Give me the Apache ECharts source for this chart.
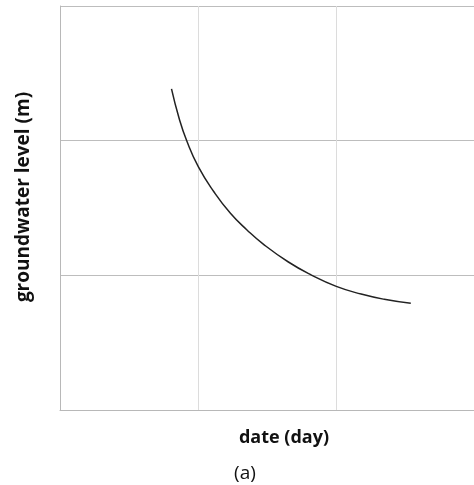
<!DOCTYPE html>
<html><head><meta charset="utf-8">
<script src="https://cdn.jsdelivr.net/npm/echarts@6/dist/echarts.min.js"></script>
<style>html,body{margin:0;padding:0;background:#fff}#c{width:474px;height:485px}</style>
</head><body><div id="c"></div>
<script>
const xValues = [0.808, 0.863, 0.919, 1.002, 1.115, 1.235, 1.355, 1.475, 1.655, 1.822, 2.002, 2.182, 2.350, 2.542];
const yValues = [2.384, 2.166, 1.997, 1.807, 1.621, 1.461, 1.337, 1.230, 1.099, 1.002, 0.918, 0.861, 0.822, 0.792];
const xTicks = [0, 1, 2, 3];
const yTicks = [0, 1, 2, 3];
const xName = 'date (day)';
const yName = 'groundwater level (m)';
const caption = '(a)';

const chart = echarts.init(document.getElementById('c'), null, {renderer: 'canvas'});
const font = '"Open Sans", "Noto Sans", sans-serif';
chart.setOption({
  animation: false,
  backgroundColor: '#fff',
  grid: {left: 60, top: 6, width: 417, height: 404, containLabel: false},
  xAxis: {
    type: 'value', min: xTicks[0], max: xTicks[xTicks.length - 1], interval: 1,
    axisLine: {show: true, lineStyle: {color: '#b8b8b8', width: 1}},
    axisTick: {show: false}, axisLabel: {show: false},
    splitLine: {show: true, lineStyle: {color: '#dcdcdc', width: 1}}
  },
  yAxis: {
    type: 'value', min: yTicks[0], max: yTicks[yTicks.length - 1], interval: 1,
    axisLine: {show: true, lineStyle: {color: '#b8b8b8', width: 1}},
    axisTick: {show: false}, axisLabel: {show: false},
    splitLine: {show: true, lineStyle: {color: '#bdbdbd', width: 1}}
  },
  series: [{
    type: 'line', smooth: 0.5, showSymbol: false,
    data: xValues.map((x, i) => [x, yValues[i]]),
    lineStyle: {color: '#222', width: 1.5}
  }],
  graphic: [
    {type: 'text', x: 24, y: 197, rotation: Math.PI / 2,
      style: {text: yName, fill: '#111', font: 'bold 19px ' + font, align: 'center', verticalAlign: 'middle'}},
    {type: 'text', x: 284, y: 438,
      style: {text: xName, fill: '#111', font: 'bold 18px ' + font, align: 'center', verticalAlign: 'middle'}},
    {type: 'text', x: 245, y: 474,
      style: {text: caption, fill: '#111', font: '19px ' + font, align: 'center', verticalAlign: 'middle'}}
  ]
});
</script></body></html>
